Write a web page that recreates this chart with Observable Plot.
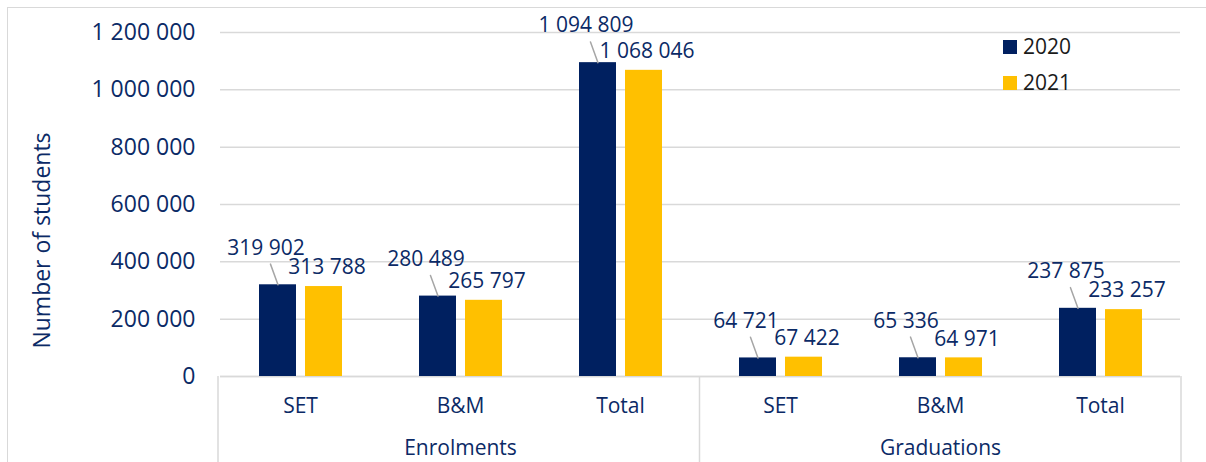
<!DOCTYPE html>
<html><head><meta charset="utf-8">
<script src="https://cdn.jsdelivr.net/npm/d3@7"></script>
<script src="https://cdn.jsdelivr.net/npm/@observablehq/plot@0.6"></script>
<style>
body{margin:0;background:#fff;}
#wrap{position:relative;width:1206px;height:462px;overflow:hidden;font-family:"Open Sans",sans-serif;}
#border{position:absolute;left:7px;top:7px;width:1300px;height:600px;border:1.5px solid #d9d9d9;box-sizing:border-box;}
#wrap svg{position:absolute;left:0;top:0;}
</style></head><body><div id="wrap"><div id="border"></div></div>
<script>
const groups = ["Enrolments","Enrolments","Enrolments","Graduations","Graduations","Graduations"];
const categories = ["SET","B&M","Total","SET","B&M","Total"];
const years = ["2020","2021"];
const values2020 = [319902, 280489, 1094809, 64721, 65336, 237875];
const values2021 = [313788, 265797, 1068046, 67422, 64971, 233257];
const yTicks = [0, 200000, 400000, 600000, 800000, 1000000, 1200000];
const groupLabels = ["Enrolments", "Graduations"];
const yLabel = "Number of students";

const navy = "#002060", gold = "#FFC000", textColor = "#0b2a66";
const keys = groups.map((g, i) => g + "|" + categories[i]);
const rows = [];
keys.forEach((k, i) => {
  rows.push({key: k, year: "2020", value: values2020[i]});
  rows.push({key: k, year: "2021", value: values2021[i]});
});
const rows2020 = rows.filter(d => d.year === "2020");
const rows2021 = rows.filter(d => d.year === "2021");
const fmt = v => d3.format(",")(v).replace(/,/g, " ");
const groupRows = groupLabels.map(g => ({key: keys[groups.indexOf(g) + 1], label: g}));
const leaderShape = {draw(context, l) { context.moveTo(0, 0); context.lineTo(0, -l); }};

const legendMarks = years.flatMap((yr, i) => [
  Plot.dot([yr], {fx: () => keys[keys.length - 1], frameAnchor: "top-left", symbol: "square", r: 7.9,
    fill: d => d, dx: -10.5, dy: 14.5 + i * 36}),
  Plot.text([yr], {fx: () => keys[keys.length - 1], frameAnchor: "top-left", text: d => d, textAnchor: "start",
    lineAnchor: "middle", fill: "#1a1a1a", fontSize: 21, dx: 2.5, dy: 14.5 + i * 36})
]);

const plot = Plot.plot({
  width: 1206, height: 462,
  marginLeft: 218, marginRight: 25, marginTop: 32, marginBottom: 86,
  style: {fontFamily: "'Open Sans', sans-serif", color: textColor, fontSize: "21px", background: "transparent"},
  fx: {domain: keys, padding: 0},
  x: {domain: years, paddingInner: 0.2, paddingOuter: 0.82, axis: null},
  y: {domain: [0, 1200000]},
  color: {domain: years, range: [navy, gold]},
  marks: [
    Plot.gridY(yTicks, {stroke: "#d9d9d9", strokeOpacity: 1, strokeWidth: 1.5}),
    Plot.ruleY([0], {stroke: "#d9d9d9", strokeWidth: 1.5}),
    Plot.barY(rows, {fx: "key", x: "year", y: "value", fill: "year"}),
    Plot.vector(rows2020, {fx: "key", x: "year", y: "value", length: 22, rotate: -20, anchor: "start",
      stroke: "#a6a6a6", strokeWidth: 1.5, shape: leaderShape}),
    Plot.text(rows2020, {fx: "key", x: "year", y: "value", text: d => fmt(d.value), dx: -12, dy: -37,
      fill: textColor, fontSize: 21}),
    Plot.text(rows2021, {fx: "key", x: "year", y: "value", text: d => fmt(d.value), dx: 3, dy: -19,
      fill: textColor, fontSize: 21}),
    Plot.axisY({ticks: yTicks, tickSize: 0, tickPadding: 25, tickFormat: fmt, fontSize: 23, label: null}),
    Plot.axisFx({anchor: "bottom", tickSize: 0, tickPadding: 21.5, tickFormat: k => k.split("|")[1],
      fontSize: 21, label: null}),
    Plot.text(groupRows, {fx: "key", frameAnchor: "bottom", text: "label", lineAnchor: "middle", dy: 72,
      fill: textColor, fontSize: 21}),
    Plot.text([yLabel], {fx: () => keys[0], frameAnchor: "left", text: d => d, rotate: -90,
      textAnchor: "middle", lineAnchor: "middle", dx: -178, dy: 36, fill: textColor, fontSize: 23}),
    ...legendMarks
  ]
});

// separators below the category axis, placed from the facet scale
const fxs = plot.scale("fx");
const ys = plot.scale("y");
const r0 = fxs.range[0], r1 = fxs.range[1];
const step = (r1 - r0) / keys.length;
const yBottom = Math.max(...ys.range);
const svg = d3.select(plot);
[0, groups.indexOf("Graduations"), keys.length].forEach(i => {
  svg.append("line").attr("x1", r0 + i * step).attr("x2", r0 + i * step)
    .attr("y1", yBottom).attr("y2", 462).attr("stroke", "#d9d9d9").attr("stroke-width", 1.5);
});
document.getElementById("wrap").appendChild(plot);
</script></body></html>
